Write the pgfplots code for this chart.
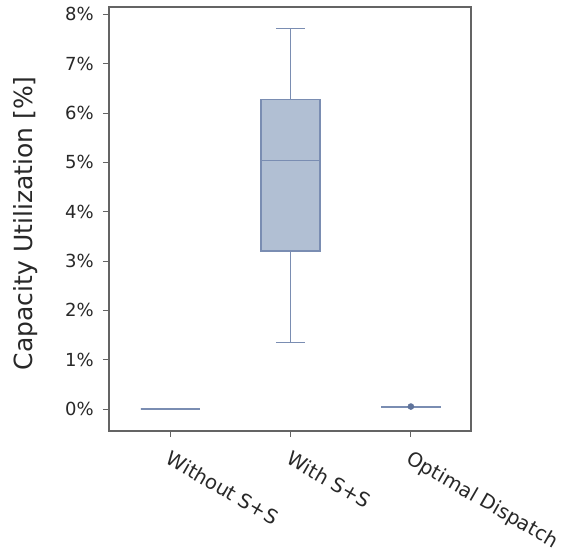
\documentclass[border=0pt]{standalone}
\usepackage{pgfplots}
\pgfplotsset{compat=1.18}
\usepgfplotslibrary{statistics}
\usepackage{fontspec}
\setmainfont{DejaVu Sans}
\definecolor{boxline}{RGB}{122,141,178}
\definecolor{boxfill}{RGB}{177,191,211}
\definecolor{dotc}{RGB}{95,115,155}
\definecolor{txt}{RGB}{40,40,40}
\definecolor{axc}{RGB}{100,100,100}
\begin{document}
\begin{tikzpicture}[line width=1.6pt]
\begin{axis}[
  scale only axis,
  width=362pt, height=424pt,
  xmin=-0.51, xmax=2.5,
  ymin=-0.446, ymax=8.15,
  xtick={0,1,2},
  xticklabels={Without S+S, With S+S, Optimal Dispatch},
  xtick pos=bottom, ytick pos=left,
  ytick={0,1,...,8},
  yticklabel={\pgfmathprintnumber{\tick}\%},
  /pgf/number format/assume math mode=true,
  tick align=outside,
  major tick length=6pt,
  tick style={axc, line width=0.8pt},
  axis line style={axc, line width=1.2pt},
  every tick label/.append style={font=\fontsize{18}{20}\selectfont, text=txt},
  xticklabel style={font=\fontsize{19.7}{22}\selectfont, rotate=-30, anchor=north west, inner sep=2pt, xshift=6pt, yshift=-8pt},
  yticklabel style={inner sep=2pt, xshift=-7pt},
  ylabel={Capacity Utilization [\%]},
  every axis y label/.style={at={(ticklabel cs:0.49)}, rotate=90, anchor=south, yshift=22pt, font=\fontsize{25}{27}\selectfont, text=txt},
  clip=false,
  boxplot/draw direction=y,
  boxplot/box extend=0.49,
  boxplot/whisker extend=0.245,
  boxplot/every box/.style={draw=boxline, fill=boxfill, line width=1.4pt},
  boxplot/draw/median/.code={%
    \draw[boxline, line width=1.6pt] (boxplot box cs:\pgfplotsboxplotvalue{median},0) -- (boxplot box cs:\pgfplotsboxplotvalue{median},1);},
  boxplot/draw/lower whisker/.code={%
    \draw[boxline, line width=1.6pt] (boxplot cs:\pgfplotsboxplotvalue{lower whisker}) -- (boxplot cs:\pgfplotsboxplotvalue{lower quartile})
      (boxplot whisker cs:\pgfplotsboxplotvalue{lower whisker},0) -- (boxplot whisker cs:\pgfplotsboxplotvalue{lower whisker},1);},
  boxplot/draw/upper whisker/.code={%
    \draw[boxline, line width=1.6pt] (boxplot cs:\pgfplotsboxplotvalue{upper whisker}) -- (boxplot cs:\pgfplotsboxplotvalue{upper quartile})
      (boxplot whisker cs:\pgfplotsboxplotvalue{upper whisker},0) -- (boxplot whisker cs:\pgfplotsboxplotvalue{upper whisker},1);},
]
\coordinate (SW) at (rel axis cs:0,0);
\addplot+[boxplot prepared={draw position=0, lower whisker=0, lower quartile=0, median=0, upper quartile=0, upper whisker=0},
  draw=boxline, solid, line width=1.6pt, mark=none]
  coordinates {};
\addplot+[boxplot prepared={draw position=1, lower whisker=1.35, lower quartile=3.20, median=5.04, upper quartile=6.27, upper whisker=7.71},
  draw=boxline, solid, line width=1.6pt, mark=none]
  coordinates {};
\addplot+[boxplot prepared={draw position=2, lower whisker=0.035, lower quartile=0.038, median=0.04, upper quartile=0.042, upper whisker=0.045},
  draw=boxline, solid, line width=1.6pt, mark=*, mark size=3pt, mark options={fill=dotc, draw=dotc, line width=0.5pt}]
  table[row sep=\\, y index=0] {0.05\\};
\end{axis}
\pgfresetboundingbox
\path (SW) ++(-109pt,-121pt) rectangle ++(562pt,552pt);
\end{tikzpicture}
\end{document}
